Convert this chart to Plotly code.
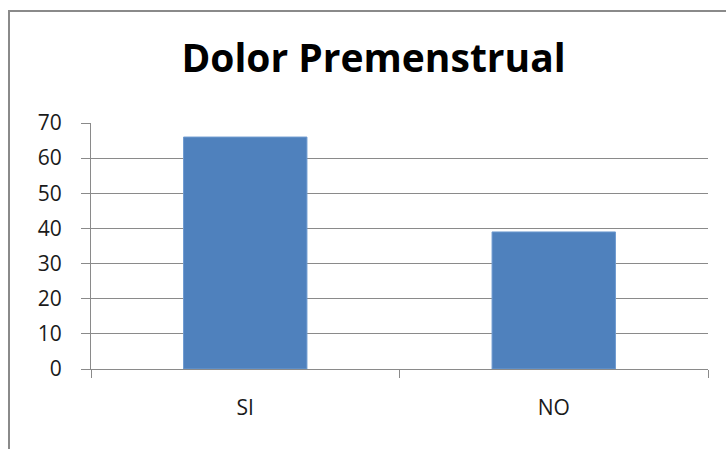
import plotly.graph_objects as go

categories = ["SI", "NO"]
values = [66, 39]
y_ticks = [0, 10, 20, 30, 40, 50, 60, 70]

W, H = 726, 449
L, R, T, B = 91, 18, 123, 80
plot_w = W - L - R
plot_h = H - T - B

fig = go.Figure(
    go.Bar(
        x=categories,
        y=values,
        marker=dict(color="#4f81bd", line=dict(color="#6f9bd0", width=1)),
        width=0.4,
    )
)

axis_grey = "#8a8a8a"

fig.update_layout(
    width=W,
    height=H,
    margin=dict(l=L, r=R, t=T, b=B, pad=0),
    paper_bgcolor="white",
    plot_bgcolor="white",
    showlegend=False,
    font=dict(family="Open Sans", color="#1a1a1a", size=21),
    title=dict(
        text="<b>Dolor Premenstrual</b>",
        font=dict(family="Open Sans", size=39, color="black"),
        x=373.5 / W,
        xanchor="center",
        y=1 - 58 / H,
        yanchor="middle",
    ),
    xaxis=dict(
        type="category",
        range=[-0.5, 1.5],
        showline=True,
        linecolor=axis_grey,
        linewidth=1,
        ticks="outside",
        tickson="boundaries",
        ticklen=8,
        tickcolor=axis_grey,
        showgrid=False,
        ticklabelstandoff=20,
        fixedrange=True,
    ),
    yaxis=dict(
        range=[0, 70],
        tickvals=y_ticks,
        showline=True,
        linecolor=axis_grey,
        linewidth=1,
        ticks="outside",
        ticklen=9,
        tickcolor=axis_grey,
        showgrid=True,
        gridcolor=axis_grey,
        gridwidth=1.2,
        zeroline=False,
        ticklabelstandoff=15,
        fixedrange=True,
    ),
)

# outer frame of the chart area, running off the right and bottom edges
fig.add_shape(
    type="rect",
    xref="paper",
    yref="paper",
    x0=(9 - L) / plot_w,
    x1=(W + 20 - L) / plot_w,
    y0=-(B + 20) / plot_h,
    y1=(H - B - 11) / plot_h,
    line=dict(color="#8a8a8a", width=2),
    fillcolor="rgba(0,0,0,0)",
    layer="above",
)

fig.write_html("out.html")
